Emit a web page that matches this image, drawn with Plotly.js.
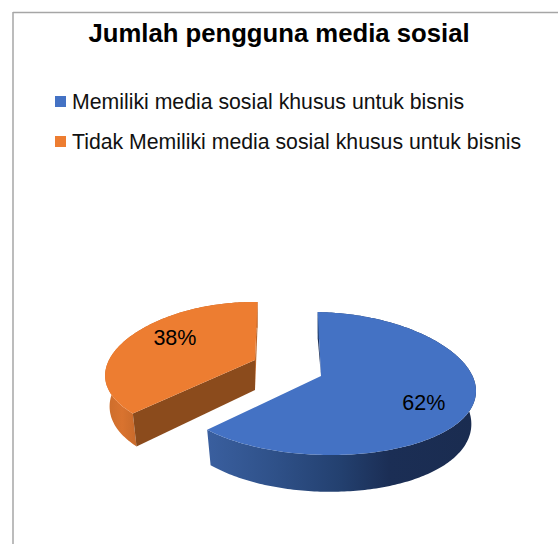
<!DOCTYPE html>
<html>
<head>
<meta charset="utf-8">
<script src="https://cdn.plot.ly/plotly-3.0.1.min.js"></script>
<style>html,body{margin:0;padding:0;background:#fff}#chart{width:558px;height:544px}</style>
</head>
<body>
<div id="chart"></div>
<script>
// Chart content
const chartTitle = 'Jumlah pengguna media sosial';
const categories = ['Memiliki media sosial khusus untuk bisnis', 'Tidak Memiliki media sosial khusus untuk bisnis'];
const shares = [62, 38];
const topColors = ['#4472c4', '#ed7d31'];

// Perspective model of each wedge: a unit disc is projected onto the page.
// h tilts the rim slightly so the ellipse leans the way the camera does.
const START_DEG = 2;
const BOTTOM_X_SCALE = 0.97;
const wedgeViews = [
  {ax: 321, ay: 376, f: 151.5, g: -8.65, h: -8, s: 70.7, k: 0.105, depth: 32, taper: 0.15, labelR: 0.73, labelShift: 9},
  {ax: 255, ay: 360, f: 146, g: -1.7, h: -12, s: 67.3, k: 0.16, depth: 30, taper: 0.14, labelR: 0.67, labelShift: 5}
];

const rad = d => d * Math.PI / 180;
function projectTop(v, r, deg) {
  const X = r * Math.sin(rad(deg)), Y = r * Math.cos(rad(deg));
  const w = 1 + v.k * Y;
  return [v.ax + (v.f * X + v.g * Y + v.h * X * Y) / w, v.ay - v.s * Y / w];
}
function projectBottom(v, r, deg) {
  const p = projectTop(v, r, deg);
  const Y = r * Math.cos(rad(deg));
  return [v.ax + (p[0] - v.ax) * BOTTOM_X_SCALE, p[1] + v.depth * (1 - v.taper * Y)];
}
function rim(v, from, to, fn) {
  const pts = [];
  const n = Math.ceil(Math.abs(to - from));
  for (let i = 0; i <= n; i++) pts.push(fn(v, 1, from + (to - from) * i / n));
  return pts;
}
function polygon(pts, style) {
  return Object.assign({
    type: 'scatter', mode: 'none', fill: 'toself', hoverinfo: 'skip', showlegend: false,
    x: pts.map(p => p[0]), y: pts.map(p => p[1])
  }, style);
}

// Angular span of each wedge, clockwise from the top
const spans = [];
shares.reduce((acc, v) => {
  const total = shares.reduce((a, b) => a + b, 0);
  const sweep = v / total * 360;
  spans.push([acc, acc + sweep]);
  return acc + sweep;
}, START_DEG);

const [blueFrom, blueTo] = spans[0];
const [orangeFrom, orangeTo] = spans[1];
const bv = wedgeViews[0], ov = wedgeViews[1];

const traces = [];

// Orange wedge: back wall, outer band, cut face, top
traces.push(polygon([
  projectTop(ov, 1, orangeTo), projectBottom(ov, 1, orangeTo), projectBottom(ov, 0, 0), projectTop(ov, 0, 0)
], {fillcolor: '#b9642a'}));
traces.push(polygon(
  rim(ov, orangeFrom, orangeTo, projectTop).concat(rim(ov, orangeTo, orangeFrom, projectBottom)),
  {fillgradient: {type: 'horizontal', start: 104, stop: 140,
    colorscale: [[0, '#c96c2b'], [0.5, '#d9732f'], [1, '#c4682a']]}}
));
traces.push(polygon([
  projectTop(ov, 0, 0), projectTop(ov, 1, orangeFrom), projectBottom(ov, 1, orangeFrom), projectBottom(ov, 0, 0)
], {fillcolor: '#8b4b1c'}));
traces.push(polygon([projectTop(ov, 0, 0)].concat(rim(ov, orangeFrom, orangeTo, projectTop)), {fillcolor: topColors[1]}));

// Blue wedge: inner wall, outer band, top
traces.push(polygon([
  projectTop(bv, 1, blueFrom), projectBottom(bv, 1, blueFrom), projectTop(bv, 0, 0)
], {fillcolor: '#1b2e55'}));
traces.push(polygon(
  rim(bv, blueFrom, blueTo, projectTop).concat(rim(bv, blueTo, blueFrom, projectBottom)),
  {fillgradient: {type: 'horizontal', start: 207, stop: 475,
    colorscale: [[0, '#3a5f9f'], [0.25, '#2f5189'], [0.5, '#23406f'], [0.68, '#1b2e55'], [1, '#1a2c50']]}}
));
traces.push(polygon([projectTop(bv, 0, 0)].concat(rim(bv, blueFrom, blueTo, projectTop)), {fillcolor: topColors[0]}));

// Percentage labels on the top faces
const labelPoints = spans.map((sp, i) =>
  projectTop(wedgeViews[i], wedgeViews[i].labelR, (sp[0] + sp[1]) / 2 + wedgeViews[i].labelShift));
traces.push({
  type: 'scatter', mode: 'text', hoverinfo: 'skip', showlegend: false,
  x: labelPoints.map(p => p[0]),
  y: labelPoints.map(p => p[1]),
  text: shares.map(v => v + '%'),
  textposition: 'middle center',
  textfont: {family: 'Liberation Sans, Arial, sans-serif', size: 21.5, color: '#000'}
});

// Legend rows: square keys with their category names
const legendX = 60.5, legendY = [101.5, 141.5];
traces.push({
  type: 'scatter', mode: 'markers', hoverinfo: 'skip', showlegend: false,
  x: categories.map(() => legendX), y: legendY,
  marker: {symbol: 'square', size: 11, color: topColors, line: {width: 0}}
});

const layout = {
  width: 558, height: 544,
  margin: {l: 0, r: 0, t: 0, b: 0},
  paper_bgcolor: '#fff', plot_bgcolor: '#fff',
  showlegend: false,
  title: {
    text: '<b>' + chartTitle + '</b>',
    x: 279 / 558, xanchor: 'center', xref: 'paper',
    y: 1 - 33 / 544, yanchor: 'middle', yref: 'paper',
    font: {family: 'Liberation Sans, Arial, sans-serif', size: 25.7, color: '#000'}
  },
  xaxis: {range: [0, 558], visible: false, fixedrange: true},
  yaxis: {range: [544, 0], visible: false, fixedrange: true},
  shapes: [
    {type: 'line', xref: 'x', yref: 'y', x0: 13, x1: 13, y0: 12, y1: 544, line: {color: '#a6a6a6', width: 1.5}},
    {type: 'line', xref: 'x', yref: 'y', x0: 13, x1: 558, y0: 12.5, y1: 12.5, line: {color: '#a6a6a6', width: 1.5}}
  ],
  annotations: categories.map((c, i) => ({
    text: c, xref: 'x', yref: 'y', x: 70, y: legendY[i], xanchor: 'left', yanchor: 'middle',
    showarrow: false, font: {family: 'Liberation Sans, Arial, sans-serif', size: 21.25, color: '#111'}
  }))
};

Plotly.newPlot('chart', traces, layout, {displayModeBar: false, staticPlot: true});
</script>
</body>
</html>
